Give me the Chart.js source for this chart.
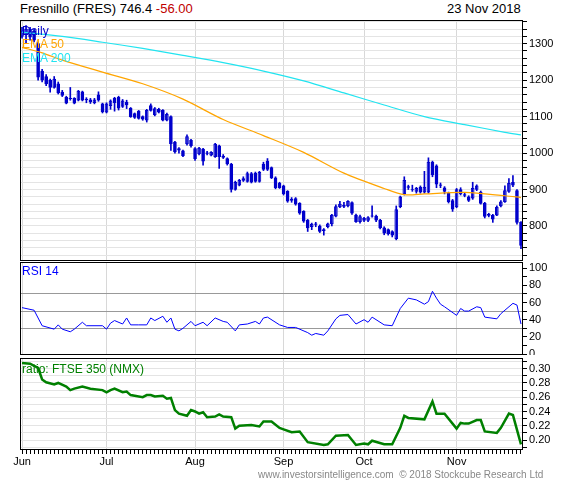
<!DOCTYPE html>
<html><head><meta charset="utf-8">
<script src="https://cdn.jsdelivr.net/npm/chart.js@4/dist/chart.umd.min.js"></script>
<style>
body{margin:0;background:#fff;width:575px;height:480px;position:relative;overflow:hidden;font-family:"Liberation Sans",Arial,sans-serif}
canvas{position:absolute;left:0}
.t{position:absolute;font-size:12px;white-space:nowrap}
</style></head><body>
<div class="t" style="left:20px;top:1px;font-size:13px">Fresnillo (FRES) 746.4 <span style="color:#c00000">-56.00</span></div>
<div class="t" style="left:447px;top:1px;font-size:13px">23 Nov 2018</div>
<canvas id="c1" width="575" height="241" style="top:20px"></canvas>
<canvas id="c2" width="575" height="93" style="top:262px"></canvas>
<canvas id="c3" width="575" height="112" style="top:358px"></canvas>
<div class="t" style="left:22px;top:24px;color:#0000cc">Daily</div>
<div class="t" style="left:22px;top:37px;color:#ffa500">EMA 50</div>
<div class="t" style="left:22px;top:51px;color:#22e4f0">EMA 200</div>
<div class="t" style="left:22px;top:264px;color:#0000ff">RSI 14</div>
<div class="t" style="left:22px;top:362px;color:#008000">ratio: FTSE 350 (NMX)</div>
<div class="t" style="left:258px;top:469px;color:#888;font-size:10px">www.investorsintelligence.com &nbsp;© 2018 Stockcube Research Ltd</div>
<script>
const openP=[1320,1325,1340,1335,1300,1225,1210,1200,1180,1190,1167,1153,1150,1150,1145,1168,1148,1146,1138,1160,1135,1112,1130,1150,1153,1128,1140,1123,1108,1115,1100,1090,1130,1105,1120,1117,1090,1100,1030,1012,1006,1025,1035,1012,998,1011,1001,994,990,1020,992,985,970,900,912,930,922,944,945,922,970,978,960,932,918,910,895,874,875,862,840,816,798,806,800,790,798,806,827,852,857,855,864,830,812,821,815,828,827,816,795,790,785,765,853,888,908,900,895,907,893,893,975,965,913,905,890,870,852,900,886,880,876,900,893,862,832,829,830,855,867,895,920,897,810];
const closeP=[1335,1340,1318,1310,1208,1200,1190,1180,1203,1165,1158,1137,1149,1137,1170,1145,1146,1140,1146,1145,1113,1135,1143,1138,1123,1143,1132,1100,1098,1095,1093,1117,1117,1122,1112,1090,1106,1025,1003,1008,993,1045,1020,985,1014,978,999,1002,1025,990,988,970,900,920,925,925,944,920,922,947,955,955,932,905,905,888,868,870,860,835,813,795,805,804,785,787,806,830,853,860,854,868,835,812,826,815,823,827,816,795,780,778,775,845,880,925,906,899,903,893,907,975,940,915,911,895,867,846,900,888,884,870,903,910,862,826,829,819,852,866,897,917,912,810,746.4];
const highP=[1345,1350,1345,1340,1305,1230,1215,1203,1210,1195,1172,1156,1180,1152,1172,1170,1152,1150,1150,1168,1137,1138,1146,1153,1156,1147,1145,1125,1110,1117,1102,1120,1135,1125,1123,1119,1110,1102,1032,1015,1008,1050,1038,1015,1016,1013,1005,1004,1027,1022,996,987,972,923,928,935,948,947,948,950,975,985,962,935,920,912,897,878,878,864,842,818,808,810,803,793,808,832,858,868,865,870,866,833,830,824,826,855,830,818,798,792,787,855,882,935,912,912,906,910,950,987,978,968,918,908,893,873,903,905,890,883,920,913,896,865,835,832,855,870,910,930,938,900,812];
const lowP=[1315,1300,1310,1305,1200,1195,1185,1167,1178,1162,1155,1135,1145,1135,1143,1143,1138,1136,1135,1142,1110,1110,1120,1115,1118,1125,1122,1098,1095,1093,1090,1085,1115,1102,1110,1088,1088,1007,1000,1000,990,1022,1016,980,995,967,995,992,988,958,985,967,893,898,910,922,920,918,920,920,952,952,930,902,903,885,865,865,857,832,810,785,790,798,782,775,795,800,825,850,850,852,832,810,808,812,812,824,812,792,776,775,770,762,850,885,900,895,890,890,890,890,935,905,905,888,863,840,850,885,880,867,873,897,860,822,825,810,828,852,865,892,908,805,738];
const ema50Idx=[0,5,10,20,30,40,50,60,70,80,90,95,100,110,120,124];
const ema50Val=[1290,1275,1255,1222,1190,1148,1092,1048,1002,945,903,886,888,892,883,878];
const ema200Idx=[0,10,20,30,40,50,60,70,80,90,100,110,120,124];
const ema200Val=[1332,1320,1304,1287,1268,1248,1225,1198,1165,1132,1100,1078,1057,1050];
const rsiIdx=[0,3,5,8,9,10,12,13,15,16,20,21,22,23,25,26,27,29,31,32,33,35,36,37,38,39,40,42,43,45,46,48,50,51,53,54,56,58,59,60,61,64,66,68,71,72,73,75,76,78,79,81,83,85,86,87,90,92,94,96,98,100,101,102,103,104,105,108,109,110,111,113,114,115,118,119,122,123,124];
const rsiVal=[54,51,33,29,34,29,26,29,37,33,33,29,36,39,35,42,34,34,34,42,39,44,37,42,29,27,30,38,33,37,33,42,38,37,27,34,35,38,35,42,43,34,31,31,25,22,24,22,27,41,45,46,35,40,37,43,34,33,53,65,63,58,61,73,65,58,55,45,53,50,50,55,54,43,41,47,59,57,35];
const ratioIdx=[0,2,4,5,6,8,9,11,12,13,15,17,20,21,22,23,25,26,27,30,31,32,33,35,36,37,38,39,41,42,43,44,45,46,48,49,50,52,53,54,57,59,60,62,64,65,67,69,71,75,76,78,81,83,85,86,87,90,92,94,95,96,100,102,103,105,108,109,110,111,113,114,115,118,119,121,122,124];
const ratioVal=[.308,.307,.301,.285,.281,.278,.280,.275,.270,.272,.275,.272,.270,.267,.270,.272,.267,.268,.263,.260,.263,.263,.261,.262,.258,.259,.242,.237,.234,.242,.240,.237,.239,.232,.233,.236,.233,.232,.216,.220,.221,.219,.226,.226,.217,.215,.211,.212,.197,.193,.194,.206,.207,.193,.195,.194,.199,.194,.194,.217,.234,.231,.229,.254,.237,.237,.216,.224,.223,.223,.228,.228,.212,.210,.217,.237,.235,.194];
const monthNames=['Jun','Jul','Aug','Sep','Oct','Nov'];

const dates=[];
for(let d=new Date(Date.UTC(2018,5,1));d<=new Date(Date.UTC(2018,10,23));d.setUTCDate(d.getUTCDate()+1)){
  const w=d.getUTCDay(); if(w===0||w===6) continue;
  if(d.getUTCMonth()===7&&d.getUTCDate()===27) continue;
  dates.push(d.toISOString().slice(0,10));
}
const monthStart=new Set();
dates.forEach((s,i)=>{ if(i===0||s.slice(5,7)!==dates[i-1].slice(5,7)) monthStart.add(i); });
const pts=(idx,val)=>idx.map((k,j)=>({x:dates[k],y:val[j]}));
const blue='#0000cc';

const frame={id:'frame',afterDraw(c){const a=c.chartArea,x=c.ctx;x.save();x.strokeStyle='#000';x.lineWidth=1;x.strokeRect(Math.round(a.left)+0.5,Math.round(a.top)+0.5,Math.round(a.right-a.left)-1,Math.round(a.bottom-a.top)-1);x.restore();}};
const fixW=s=>{s.width=52;s.paddingTop=0;s.paddingBottom=0;};
function xScale(showLabels){
  return {type:'category',offset:true,
    grid:{offset:false,drawTicks:showLabels,tickLength:4,tickColor:'#000',
      color:ctx=>monthStart.has(ctx.index)?'#d8d8d8':'rgba(0,0,0,0)'},
    border:{display:false},
    ticks:{display:showLabels,autoSkip:false,maxRotation:0,padding:1,color:'#000',font:{size:11,family:'Liberation Sans'},
      callback:(v,i)=>monthStart.has(i)?monthNames[parseInt(dates[i].slice(5,7))-6]:''},
    afterFit:s=>{s.height=showLabels?20:0;s.paddingLeft=0;s.paddingRight=0;}};
}
function yScale(min,max,ticks,labelFn,gridFn){
  return {position:'right',min,max,border:{display:false},
    afterBuildTicks:s=>{s.ticks=ticks.map(v=>({value:v}));},
    afterFit:fixW,
    grid:{color:gridFn,tickLength:4,tickColor:'#000'},
    ticks:{padding:2,color:'#000',font:{size:11,family:'Liberation Sans'},autoSkip:false,callback:labelFn}};
}
const base={responsive:false,animation:false,events:[],plugins:{legend:{display:false},tooltip:{enabled:false}},layout:{padding:{left:20,top:0,right:0,bottom:0}}};

const mainTicks=[];for(let v=720;v<=1360;v+=20)mainTicks.push(v);
new Chart(document.getElementById('c1'),{
  type:'bar',
  data:{labels:dates,datasets:[
    {type:'line',data:pts(ema200Idx,ema200Val),borderColor:'#22e4f0',borderWidth:1.2,pointRadius:0,tension:0.3},
    {type:'line',data:pts(ema50Idx,ema50Val),borderColor:'#ffa500',borderWidth:1.2,pointRadius:0,tension:0.3},
    {data:dates.map((_,i)=>[lowP[i],highP[i]]),backgroundColor:blue,barThickness:1,grouped:false},
    {data:dates.map((_,i)=>[openP[i],closeP[i]]),barThickness:3,grouped:false,borderSkipped:false,borderWidth:1,borderColor:blue,
      backgroundColor:dates.map((_,i)=>closeP[i]<openP[i]?blue:'#fff')}
  ]},
  options:{...base,scales:{x:xScale(false),y:yScale(704,1365,mainTicks,v=>v%100===0&&v>=800&&v<=1300?v:'',ctx=>'#e4e4e4')}},
  plugins:[frame]
});

const rsiTicks=[0,10,20,30,40,50,60,70,80,90,100];
new Chart(document.getElementById('c2'),{
  type:'line',
  data:{labels:dates,datasets:[{data:pts(rsiIdx,rsiVal),borderColor:'#0000ff',borderWidth:1,pointRadius:0}]},
  options:{...base,scales:{x:xScale(false),y:yScale(-1,107,rsiTicks,v=>v%20===0?v:'',ctx=>[30,50,70].includes(ctx.tick&&ctx.tick.value)?'#999':'rgba(0,0,0,0)')}},
  plugins:[frame]
});

const ratioTicks=[.19,.20,.21,.22,.23,.24,.25,.26,.27,.28,.29,.30,.31];
new Chart(document.getElementById('c3'),{
  type:'line',
  data:{labels:dates,datasets:[{data:pts(ratioIdx,ratioVal),borderColor:'#008000',borderWidth:2.5,pointRadius:0}]},
  options:{...base,scales:{x:xScale(true),y:yScale(0.186,0.315,ratioTicks,v=>Math.round(v*100)%2===0?v.toFixed(2):'',ctx=>'#e4e4e4')}},
  plugins:[frame]
});
</script></body></html>
